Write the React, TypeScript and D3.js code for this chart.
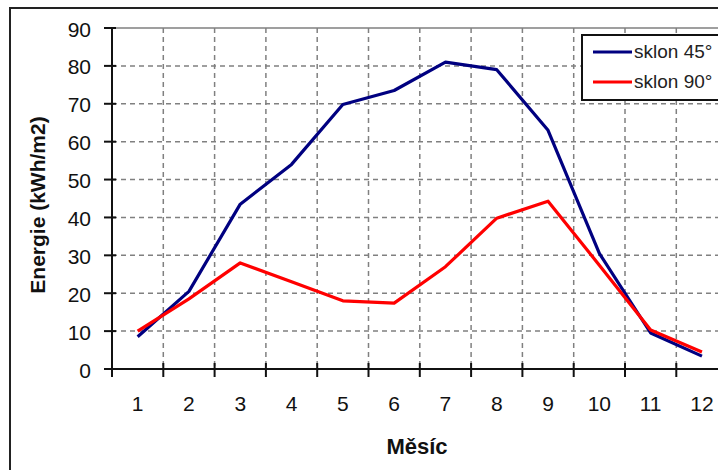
import React, { useEffect, useRef } from 'react';
import * as d3 from 'd3';

// Data
const months = ['1', '2', '3', '4', '5', '6', '7', '8', '9', '10', '11', '12'];
const sklon45 = [8.5, 20.5, 43.5, 54, 69.8, 73.5, 81, 79, 63, 30.5, 9.5, 3.4];
const sklon90 = [10, 18.5, 28, 23, 18, 17.4, 27, 39.8, 44.3, 27.4, 10.3, 4.5];
const yTicks = [0, 10, 20, 30, 40, 50, 60, 70, 80, 90];

const series = [
  { name: 'sklon 45°', values: sklon45, color: '#000080' },
  { name: 'sklon 90°', values: sklon90, color: '#ff0000' },
];

export default function App() {
  const ref = useRef<SVGSVGElement | null>(null);

  useEffect(() => {
    const width = 718;
    const height = 470;
    const svg = d3.select(ref.current);
    svg.selectAll('*').remove();

    const font = "'Liberation Sans', Arial, sans-serif";

    // chart frame
    svg.append('rect')
      .attr('x', 10).attr('y', 8)
      .attr('width', 800).attr('height', 600)
      .attr('fill', 'white')
      .attr('stroke', '#222').attr('stroke-width', 2);

    const left = 112, top = 28, bottom = 369;
    const step = 51.3;

    const x = d3.scaleBand<string>()
      .domain(months)
      .range([left, left + step * months.length])
      .padding(0);

    const y = d3.scaleLinear().domain([0, 90]).range([bottom, top]);

    const right = left + step * months.length;

    // plot area border
    svg.append('rect')
      .attr('x', left).attr('y', top)
      .attr('width', right - left).attr('height', bottom - top)
      .attr('fill', 'none')
      .attr('stroke', '#808080').attr('stroke-width', 1.5);

    // gridlines
    const grid = svg.append('g')
      .attr('stroke', '#808080')
      .attr('stroke-width', 1.5)
      .attr('stroke-dasharray', '5,4');

    grid.selectAll('line.h')
      .data(yTicks.filter(d => d > 0 && d < 90))
      .enter().append('line')
      .attr('x1', left).attr('x2', right)
      .attr('y1', d => y(d)).attr('y2', d => y(d));

    grid.selectAll('line.v')
      .data(months.slice(1))
      .enter().append('line')
      .attr('x1', d => x(d)!).attr('x2', d => x(d)!)
      .attr('y1', top).attr('y2', bottom);

    // lines
    const line = d3.line<number>()
      .x((d, i) => x(months[i])! + x.bandwidth() / 2)
      .y(d => y(d));

    series.forEach(s => {
      svg.append('path')
        .datum(s.values)
        .attr('d', line)
        .attr('fill', 'none')
        .attr('stroke', s.color)
        .attr('stroke-width', 3.2)
        .attr('stroke-linejoin', 'round');
    });

    // axes
    const axes = svg.append('g').attr('stroke', '#111').attr('stroke-width', 2);
    axes.append('line')
      .attr('x1', left).attr('x2', left)
      .attr('y1', top).attr('y2', bottom + 1);
    axes.append('line')
      .attr('x1', left - 8).attr('x2', right)
      .attr('y1', bottom).attr('y2', bottom);

    axes.selectAll('line.yt')
      .data(yTicks)
      .enter().append('line')
      .attr('x1', left - 8).attr('x2', left + 4)
      .attr('y1', d => y(d)).attr('y2', d => y(d));

    axes.selectAll('line.xt')
      .data(months)
      .enter().append('line')
      .attr('x1', d => x(d)!).attr('x2', d => x(d)!)
      .attr('y1', bottom - 6).attr('y2', bottom + 8);

    // tick labels
    svg.append('g')
      .selectAll('text')
      .data(yTicks)
      .enter().append('text')
      .attr('x', 91)
      .attr('y', d => y(d) + 8.5)
      .attr('text-anchor', 'end')
      .style('font-family', font)
      .style('font-size', '21px')
      .attr('fill', '#111')
      .text(d => d);

    svg.append('g')
      .selectAll('text')
      .data(months)
      .enter().append('text')
      .attr('x', d => x(d)! + x.bandwidth() / 2)
      .attr('y', 411)
      .attr('text-anchor', 'middle')
      .style('font-family', font)
      .style('font-size', '21px')
      .attr('fill', '#111')
      .text(d => d);

    // axis titles
    svg.append('text')
      .attr('transform', 'translate(45,' + 205 + ') rotate(-90)')
      .attr('text-anchor', 'middle')
      .style('font-family', font)
      .style('font-size', '21px')
      .style('font-weight', 'bold')
      .attr('fill', '#111')
      .text('Energie (kWh/m2)');

    svg.append('text')
      .attr('x', 417)
      .attr('y', 454)
      .attr('text-anchor', 'middle')
      .style('font-family', font)
      .style('font-size', '22px')
      .style('font-weight', 'bold')
      .attr('fill', '#111')
      .text('Měsíc');

    // legend
    const legend = svg.append('g');
    legend.append('rect')
      .attr('x', 582).attr('y', 35)
      .attr('width', 200).attr('height', 65)
      .attr('fill', 'white')
      .attr('stroke', '#111').attr('stroke-width', 2);

    series.forEach((s, i) => {
      const ly = 52 + i * 30;
      legend.append('line')
        .attr('x1', 593).attr('x2', 632)
        .attr('y1', ly).attr('y2', ly)
        .attr('stroke', s.color)
        .attr('stroke-width', 3.2);
      legend.append('text')
        .attr('x', 634)
        .attr('y', ly + 6)
        .style('font-family', font)
        .style('font-size', '19px')
        .attr('fill', '#222')
        .text(s.name);
    });

    svg.attr('width', width).attr('height', height);
  }, []);

  return (
    <svg ref={ref} width={718} height={470}
      style={{ position: 'absolute', left: 0, top: 0, background: 'white' }} />
  );
}
